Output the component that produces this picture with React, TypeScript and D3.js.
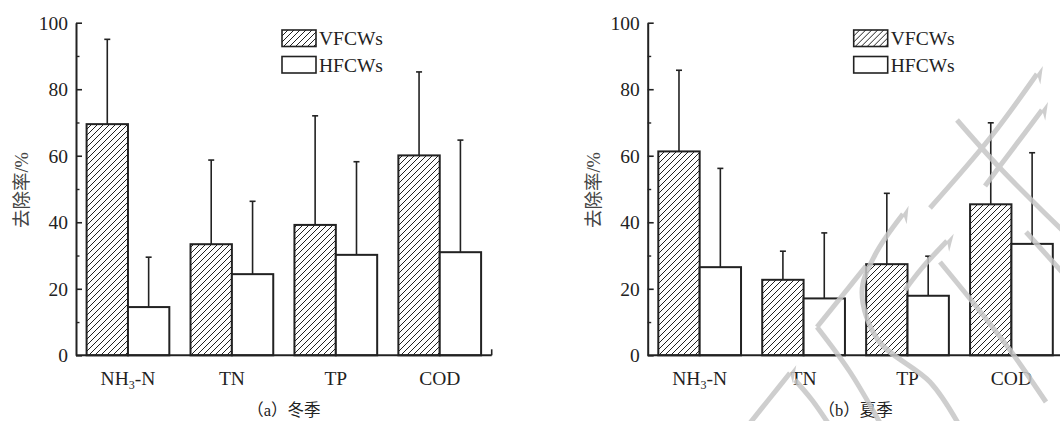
import { useEffect, useRef } from "react";
import * as d3 from "d3";

// categories / series
const categories = ["NH3-N", "TN", "TP", "COD"];
const seriesNames = ["VFCWs", "HFCWs"];
const yTicks = [0, 20, 40, 60, 80, 100];
const yMinorTicks = [10, 30, 50, 70, 90];

// (a) winter
const winterVF = [69.5, 33.4, 39.2, 60.1];
const winterVFErr = [25.5, 25.3, 32.8, 25.1];
const winterHF = [14.5, 24.4, 30.2, 31.0];
const winterHFErr = [15.0, 21.9, 28.0, 33.7];

// (b) summer
const summerVF = [61.3, 22.7, 27.4, 45.4];
const summerVFErr = [24.4, 8.6, 21.3, 24.5];
const summerHF = [26.5, 17.1, 17.9, 33.5];
const summerHFErr = [29.7, 19.7, 11.9, 27.4];

const panelTitles = ["（a）冬季", "（b）夏季"];

const W = 1060;
const H = 421;
const FONT = "'Liberation Serif', 'Times New Roman', 'Noto Sans CJK SC', serif";
const INK = "#222";
const WM = "#c6c6c6";

// background watermark strokes (decoration only)
const watermark: [number, number][][] = [
  [[1037, 74], [990, 138], [930, 208]],
  [[957, 120], [1000, 168], [1062, 230]],
  [[1042, 110], [1012, 150], [985, 186]],
  [[790, 373], [770, 398], [750, 423]],
  [[795, 380], [812, 400], [828, 423]],
  [[903, 214], [875, 255], [862, 292], [878, 340], [930, 382], [958, 423]],
  [[947, 241], [922, 268], [905, 290]],
  [[817, 327], [842, 296], [866, 266]],
  [[817, 327], [850, 372], [880, 423]],
  [[940, 262], [975, 305], [1010, 350], [1046, 402]],
  [[1026, 232], [1062, 272]],
];
const arrowTips = [0, 2, 3, 5, 6];

function App() {
  const ref = useRef<SVGSVGElement>(null);

  useEffect(() => {
    const svg = d3.select(ref.current);
    svg.selectAll("*").remove();

    // hatch pattern
    const defs = svg.append("defs");
    const pat = defs
      .append("pattern")
      .attr("id", "hatch")
      .attr("patternUnits", "userSpaceOnUse")
      .attr("width", 6)
      .attr("height", 6);
    pat.append("rect").attr("width", 6).attr("height", 6).attr("fill", "white");
    pat
      .append("path")
      .attr("d", "M-1,1 L1,-1 M0,6 L6,0 M5,7 L7,5")
      .attr("stroke", INK)
      .attr("stroke-width", 1);

    const panels = [
      { x0: 76, vf: winterVF, vfe: winterVFErr, hf: winterHF, hfe: winterHFErr, title: panelTitles[0] },
      { x0: 647.7, vf: summerVF, vfe: summerVFErr, hf: summerHF, hfe: summerHFErr, title: panelTitles[1] },
    ];

    const y = d3.scaleLinear().domain([0, 100]).range([355.3, 22.7]);
    const axisLen = 415.7;

    panels.forEach((p) => {
      const g = svg.append("g");
      const x = d3
        .scaleBand()
        .domain(categories)
        .range([p.x0, p.x0 + axisLen])
        .paddingInner(0.204)
        .paddingOuter(0.102);
      const sub = d3.scaleBand().domain(seriesNames).range([0, x.bandwidth()]);

      const rows = categories.flatMap((c, i) => [
        { c, s: seriesNames[0], v: p.vf[i], e: p.vfe[i] },
        { c, s: seriesNames[1], v: p.hf[i], e: p.hfe[i] },
      ]);

      // error bars
      const eb = g.append("g").attr("stroke", INK).attr("stroke-width", 1.6);
      rows.forEach((d) => {
        const cx = (x(d.c) as number) + (sub(d.s) as number) + sub.bandwidth() / 2;
        eb.append("line").attr("x1", cx).attr("x2", cx).attr("y1", y(d.v)).attr("y2", y(d.v + d.e));
        eb.append("line").attr("x1", cx - 3).attr("x2", cx + 3).attr("y1", y(d.v + d.e)).attr("y2", y(d.v + d.e));
      });

      // bars
      g.selectAll(".bar")
        .data(rows)
        .enter()
        .append("rect")
        .attr("x", (d) => (x(d.c) as number) + (sub(d.s) as number))
        .attr("y", (d) => y(d.v))
        .attr("width", sub.bandwidth())
        .attr("height", (d) => y(0) - y(d.v))
        .attr("fill", (d) => (d.s === seriesNames[0] ? "url(#hatch)" : "white"))
        .attr("stroke", INK)
        .attr("stroke-width", 2);

      // y axis
      const ya = g
        .append("g")
        .attr("transform", `translate(${p.x0},0)`)
        .call(d3.axisLeft(y).tickValues(yTicks).tickSizeInner(-6).tickSizeOuter(0).tickPadding(8));
      ya.select(".domain").attr("stroke", INK).attr("stroke-width", 2);
      ya.selectAll(".tick line").attr("stroke", INK).attr("stroke-width", 1.6);
      ya.selectAll(".tick text")
        .attr("font-family", FONT)
        .attr("font-size", 19.5)
        .attr("fill", INK)
        .attr("dy", "0.34em");
      const ym = g
        .append("g")
        .attr("transform", `translate(${p.x0},0)`)
        .call(d3.axisLeft(y).tickValues(yMinorTicks).tickSizeInner(-3.5).tickSizeOuter(0).tickFormat(() => ""));
      ym.select(".domain").remove();
      ym.selectAll(".tick line").attr("stroke", INK).attr("stroke-width", 1.4);

      // x axis
      g.append("line")
        .attr("x1", p.x0)
        .attr("x2", p.x0 + axisLen)
        .attr("y1", y(0))
        .attr("y2", y(0))
        .attr("stroke", INK)
        .attr("stroke-width", 2);
      g.append("line")
        .attr("x1", p.x0 + axisLen)
        .attr("x2", p.x0 + axisLen)
        .attr("y1", y(0))
        .attr("y2", y(0) - 6)
        .attr("stroke", INK)
        .attr("stroke-width", 1.6);

      categories.forEach((c) => {
        const t = g
          .append("text")
          .attr("x", (x(c) as number) + x.bandwidth() / 2)
          .attr("y", 385)
          .attr("text-anchor", "middle")
          .attr("font-family", FONT)
          .attr("font-size", 19.5)
          .attr("fill", INK);
        if (c === "NH3-N") {
          t.append("tspan").text("NH");
          t.append("tspan").attr("font-size", 12).attr("dy", 4).text("3");
          t.append("tspan").attr("dy", -4).text("-N");
        } else {
          t.text(c);
        }
      });

      // y label
      g.append("text")
        .attr("transform", `translate(${p.x0 - 48},190) rotate(-90)`)
        .attr("text-anchor", "middle")
        .attr("font-family", FONT)
        .attr("font-size", 18.5)
        .attr("fill", "#444")
        .text("去除率/%");

      // panel title
      g.append("text")
        .attr("x", p.x0 + axisLen / 2)
        .attr("y", 416)
        .attr("text-anchor", "middle")
        .attr("font-family", FONT)
        .attr("font-size", 16.5)
        .attr("fill", INK)
        .text(p.title);

      // legend
      const lg = g.append("g").attr("transform", `translate(${p.x0 + 206},30)`);
      seriesNames.forEach((s, i) => {
        lg.append("rect")
          .attr("x", 0)
          .attr("y", i * 26.5)
          .attr("width", 34)
          .attr("height", 16.5)
          .attr("fill", i === 0 ? "url(#hatch)" : "white")
          .attr("stroke", INK)
          .attr("stroke-width", 1.6);
        lg.append("text")
          .attr("x", 37)
          .attr("y", i * 26.5 + 15)
          .attr("font-family", FONT)
          .attr("font-size", 19.5)
          .attr("fill", INK)
          .text(s);
      });
    });

    // watermark
    const wm = svg.append("g").attr("opacity", 0.85);
    const line = d3.line().curve(d3.curveCatmullRom);
    watermark.forEach((pts, i) => {
      wm.append("path")
        .attr("d", line(pts))
        .attr("fill", "none")
        .attr("stroke", WM)
        .attr("stroke-width", 5);
      if (arrowTips.includes(i)) {
        const [a, b] = [pts[0], pts[1]];
        const ang = Math.atan2(a[1] - b[1], a[0] - b[0]);
        const tip = [a[0] + Math.cos(ang) * 10, a[1] + Math.sin(ang) * 10];
        const l = [a[0] + Math.cos(ang + 2.2) * 11, a[1] + Math.sin(ang + 2.2) * 11];
        wm.append("path")
          .attr("d", `M${tip[0]},${tip[1]} L${l[0]},${l[1]} L${a[0]},${a[1]} Z`)
          .attr("fill", WM);
      }
    });
  }, []);

  return (
    <svg
      ref={ref}
      width={W}
      height={H}
      style={{ position: "absolute", left: 0, top: 0, background: "white" }}
    />
  );
}

export default App;
